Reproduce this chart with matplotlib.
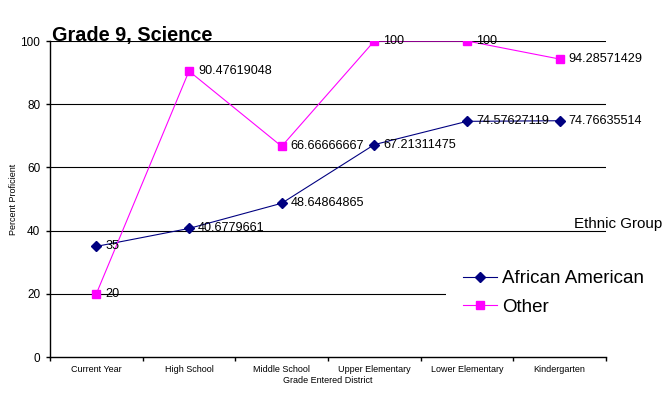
import matplotlib.pyplot as plt
from matplotlib.lines import Line2D
from matplotlib.patches import Rectangle

plt.rcParams['font.family'] = ['Liberation Sans', 'DejaVu Sans']

categories = ["Current Year", "High School", "Middle School",
              "Upper Elementary", "Lower Elementary", "Kindergarten"]
african_american = [35, 40.6779661, 48.64864865, 67.21311475, 74.57627119, 74.76635514]
other = [20, 90.47619048, 66.66666667, 100, 100, 94.28571429]
aa_labels = ["35", "40.6779661", "48.64864865", "67.21311475", "74.57627119", "74.76635514"]
other_labels = ["20", "90.47619048", "66.66666667", "100", "100", "94.28571429"]
y_ticks = [0, 20, 40, 60, 80, 100]

navy = "#000080"
magenta = "#FF00FF"
px = 0.72  # one pixel in points at dpi 100

fig = plt.figure(figsize=(6.68, 3.95), dpi=100)
ax = fig.add_axes([50 / 668, 1 - 357 / 395, 556 / 668, 316 / 395])

x = list(range(len(categories)))
ax.set_xlim(-0.5, len(categories) - 0.5)
ax.set_ylim(0, 100)

for y in y_ticks[1:]:
    ax.axhline(y, color="black", lw=1.1 * px, zorder=1)

ax.plot(x, african_american, color=navy, lw=1.1 * px, marker="D", ms=5.5,
        mfc=navy, mec=navy, zorder=3)
ax.plot(x, other, color=magenta, lw=1.1 * px, marker="s", ms=6,
        mfc=magenta, mec=magenta, zorder=3)

for xi, yv, lab in zip(x, african_american, aa_labels):
    ax.annotate(lab, (xi, yv), xytext=(6.5, 0), textcoords="offset points",
                va="center", ha="left", fontsize=9.1, zorder=4)
for xi, yv, lab in zip(x, other, other_labels):
    ax.annotate(lab, (xi, yv), xytext=(6.5, 0), textcoords="offset points",
                va="center", ha="left", fontsize=9.1, zorder=4)

for s in ["top", "right"]:
    ax.spines[s].set_visible(False)
for s in ["left", "bottom"]:
    ax.spines[s].set_linewidth(1.4 * px)

ax.set_yticks(y_ticks)
ax.set_yticklabels([str(v) for v in y_ticks], fontsize=8.5)
ax.set_xticks([i + 0.5 for i in range(-1, len(categories))])
ax.set_xticklabels([])
ax.set_xticks(x, minor=True)
ax.set_xticklabels(categories, minor=True, fontsize=6.5)
ax.tick_params(axis="x", which="minor", length=0, pad=6)
ax.tick_params(axis="x", which="major", length=3, width=1.4 * px, direction="out")
ax.tick_params(axis="y", length=3, width=1.4 * px, direction="out", pad=4)

ax.set_xlabel("Grade Entered District", fontsize=6.5, labelpad=1)
ax.set_ylabel("Percent Proficient", fontsize=6.5)
ax.yaxis.set_label_coords(-32 / 556, 0.5)

fig.text(52 / 668, 1 - 36 / 395, "Grade 9, Science", fontsize=14.3,
         fontweight="bold", va="center", ha="left")

# white legend area covering the lower gridline
ax.add_patch(Rectangle((446 / 668, 1 - 335 / 395), 222 / 668, 95 / 395,
                       transform=fig.transFigure, facecolor="white",
                       edgecolor="none", clip_on=False, zorder=5))
fig.text(574 / 668, 1 - 224 / 395, "Ethnic Group", fontsize=10.9,
         va="center", ha="left")

handles = [
    Line2D([], [], color=navy, lw=1.1 * px, marker="D", ms=5.5, mfc=navy, mec=navy),
    Line2D([], [], color=magenta, lw=1.1 * px, marker="s", ms=6, mfc=magenta, mec=magenta),
]
leg = fig.legend(handles, ["African American", "Other"], loc="upper left",
                 bbox_to_anchor=(463 / 668, 1 - 270 / 395), frameon=False,
                 fontsize=13.5, handlelength=1.8, handletextpad=0.3,
                 labelspacing=0.6, borderpad=0, borderaxespad=0)
leg.set_zorder(6)

fig.savefig("out.png", dpi=100)
